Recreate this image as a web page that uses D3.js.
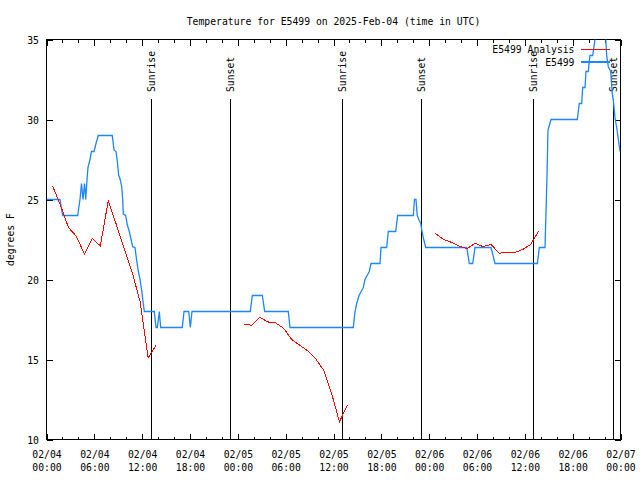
<!DOCTYPE html>
<html>
<head>
<meta charset="utf-8">
<script src="https://cdn.jsdelivr.net/npm/d3@7"></script>
<style>
  html, body { margin: 0; padding: 0; background: #fff; }
  svg { display: block; }
  text { font-family: "DejaVu Sans Mono", monospace; font-size: 9.75px; fill: #000; }
</style>
</head>
<body>
<svg id="chart" width="640" height="480"></svg>
<script>
// ---- data (hours since 2025-02-04 00:00 UTC, degrees F) ----
const titleText = "Temperature for E5499 on 2025-Feb-04 (time in UTC)";
const yLabel = "degrees F";
const seriesNames = ["E5499 Analysis", "E5499"];
const yTicks = [10, 15, 20, 25, 30, 35];

// observed station temperature (E5499)
const obsHours = [0,1.69,2.03,3.91,4.2,4.39,4.58,4.77,4.92,5.05,5.2,5.46,5.64,5.96,6.21,6.5,8.25,8.47,8.72,8.88,9.06,9.22,9.43,9.56,9.63,9.93,10.14,10.39,10.56,10.81,11.1,11.31,11.52,11.73,11.94,12.14,12.27,13.52,13.74,13.9,14.15,14.32,17.03,17.25,17.84,18.04,18.25,25.56,25.82,27.07,27.37,30.33,30.54,38.48,38.7,38.91,39.2,39.74,39.95,40.49,40.7,41.83,41.96,42.67,42.87,43.8,44.05,46.01,46.16,46.35,46.5,46.75,46.94,47.07,47.27,47.57,52.71,53.04,53.46,53.75,55.76,56.26,61.57,61.82,62.53,62.78,62.9,63.28,66.58,66.83,67.13,67.26,67.55,67.67,67.96,68.17,68.51,68.8,69.2,69.8,70.15,70.27,70.47,70.77,70.97,71.1,71.31,71.52,71.72,71.94];
const obsTemps = [25,25,24,24,25,26,25,26,25,26,27,27.5,28,28,28.5,29,29,28.1,28,27.4,26.5,26.3,25.8,25,24.1,24,23.4,23,22.6,22.05,22,21.2,20.5,20,19.3,18.5,18,18,17,17,18,17,17,18,18,17,18,18,19,19,18,18,17,17,18,18.5,19,19.5,20,20.5,21,21,22,22,23,23,24,24,25,25,24,23.7,23.5,23.1,22.6,22,22,21,21,22,22,21,21,22,22,26.4,29.3,30,30,31,31,32,32,33,33,34,34,35,36,36,35,34,33.3,33,31.6,31.2,30.1,29.5,28.8,28];

// analysis temperature (E5499 Analysis), null = no analysis
const anaHours = [0.75,1.75,2.75,3.75,4.75,5.75,6.75,7.75,8.75,9.75,10.75,11.75,12.75,13.75,19,24.75,25.75,26.75,27.75,28.75,29.75,30.75,31.75,32.75,33.75,34.75,35.75,36.75,37.75,43,48.75,49.75,50.75,51.75,52.75,53.75,54.75,55.75,56.75,57.75,58.75,59.75,60.75,61.75];
const anaTemps = [25.85,24.65,23.25,22.7,21.6,22.57,22.1,24.93,23.45,21.95,20.45,18.6,15.1,15.9,null,17.22,17.14,17.64,17.35,17.28,16.95,16.25,15.9,15.55,15.05,14.35,12.9,11.1,12.16,null,22.9,22.52,22.33,22.1,21.92,22.27,22.05,22.2,21.65,21.67,21.69,21.88,22.2,23.03];

// sunrise / sunset (hours since start)
const sunEvents = ["Sunrise","Sunset","Sunrise","Sunset","Sunrise","Sunset"];
const sunHours = [13.05, 22.96, 37.08, 47.03, 61.08, 71.0];

// ---- chart ----
const start = Date.UTC(2025, 1, 4, 0, 0);
const toDate = h => new Date(start + h * 3600000);
const L = 46.5, R = 620.5, T = 39.5, B = 439.5;
const blue = "#1a86ff", red = "#ff0000";

const svg = d3.select("#chart");
const x = d3.scaleUtc().domain([toDate(0), toDate(72)]).range([L, R]);
const y = d3.scaleLinear().domain([10, 35]).range([B, T]);

svg.append("defs").append("clipPath").attr("id", "clip")
  .append("rect").attr("x", L).attr("y", T).attr("width", R - L).attr("height", B - T);

// axes
const fmtD = d3.utcFormat("%m/%d"), fmtH = d3.utcFormat("%H:%M");
const gB = svg.append("g").attr("transform", `translate(0,${B})`)
  .call(d3.axisBottom(x).ticks(d3.utcHour.every(6)).tickSizeInner(-6).tickSizeOuter(0).tickFormat(""));
gB.selectAll(".tick text").remove();
gB.selectAll(".tick").append("text")
  .attr("text-anchor", "middle")
  .each(function(d) {
    const t = d3.select(this);
    t.append("tspan").attr("x", 0).attr("y", 18).text(fmtD(d));
    t.append("tspan").attr("x", 0).attr("y", 31.5).text(fmtH(d));
  });
svg.append("g").attr("transform", `translate(0,${B})`)
  .call(d3.axisBottom(x).ticks(d3.utcHour.every(2)).tickSizeInner(-3).tickSizeOuter(0).tickFormat(""));
svg.append("g").attr("transform", `translate(0,${T})`)
  .call(d3.axisTop(x).ticks(d3.utcHour.every(6)).tickSizeInner(-6).tickSizeOuter(0).tickFormat(""));
svg.append("g").attr("transform", `translate(0,${T})`)
  .call(d3.axisTop(x).ticks(d3.utcHour.every(2)).tickSizeInner(-3).tickSizeOuter(0).tickFormat(""));
const gL = svg.append("g").attr("transform", `translate(${L},0)`)
  .call(d3.axisLeft(y).tickValues(yTicks).tickSizeInner(-6).tickSizeOuter(0).tickPadding(7.5));
gL.selectAll(".tick text").attr("dy", "0.38em");
svg.append("g").attr("transform", `translate(${R},0)`)
  .call(d3.axisRight(y).tickValues(yTicks).tickSizeInner(-6).tickSizeOuter(0).tickFormat(""));
svg.selectAll(".domain").remove();
svg.selectAll(".tick line").attr("stroke", "#000").attr("shape-rendering", "crispEdges");
svg.selectAll(".tick text").attr("font-family", null).attr("font-size", null).attr("fill", "#000");
svg.selectAll("g").attr("font-family", null).attr("font-size", null);

// sunrise/sunset lines
sunHours.forEach((h, i) => {
  const xx = Math.round(x(toDate(h))) + 0.5;
  svg.append("line").attr("x1", xx).attr("x2", xx).attr("y1", 99).attr("y2", B)
    .attr("stroke", "#000").attr("shape-rendering", "crispEdges");
  svg.append("text").attr("transform", `translate(${xx},92) rotate(-90)`)
    .attr("text-anchor", "start").attr("dy", "0.38em").text(sunEvents[i]);
});

// border
svg.append("rect").attr("x", L).attr("y", T).attr("width", R - L).attr("height", B - T)
  .attr("fill", "none").attr("stroke", "#000").attr("shape-rendering", "crispEdges");

// data lines
const obs = obsHours.map((h, i) => ({ t: toDate(h), v: obsTemps[i] }));
const ana = anaHours.map((h, i) => ({ t: toDate(h), v: anaTemps[i] }));
const line = d3.line().defined(d => d.v != null).x(d => x(d.t)).y(d => y(d.v));
const gD = svg.append("g").attr("clip-path", "url(#clip)");
gD.append("path").datum(obs).attr("d", line).attr("fill", "none").attr("stroke", blue)
  .attr("stroke-width", 1.3);
gD.append("path").datum(ana).attr("d", line).attr("fill", "none").attr("stroke", red)
  .attr("stroke-width", 1).attr("shape-rendering", "crispEdges");

// title & axis label
svg.append("text").attr("x", (L + R) / 2).attr("y", 25).attr("text-anchor", "middle").text(titleText);
svg.append("text").attr("transform", `translate(13.5,${(T + B) / 2}) rotate(-90)`)
  .attr("text-anchor", "middle").text(yLabel);

// legend
const legColors = [red, blue];
const legY = [49.5, 62];
seriesNames.forEach((n, i) => {
  svg.append("text").attr("x", 574.5).attr("y", legY[i]).attr("dy", "0.38em")
    .attr("text-anchor", "end").text(n);
  svg.append("line").attr("x1", 581).attr("x2", 610).attr("y1", legY[i]).attr("y2", legY[i])
    .attr("stroke", legColors[i]).attr("stroke-width", i === 1 ? 1.3 : 1)
    .attr("shape-rendering", "crispEdges");
});
</script>
</body>
</html>
